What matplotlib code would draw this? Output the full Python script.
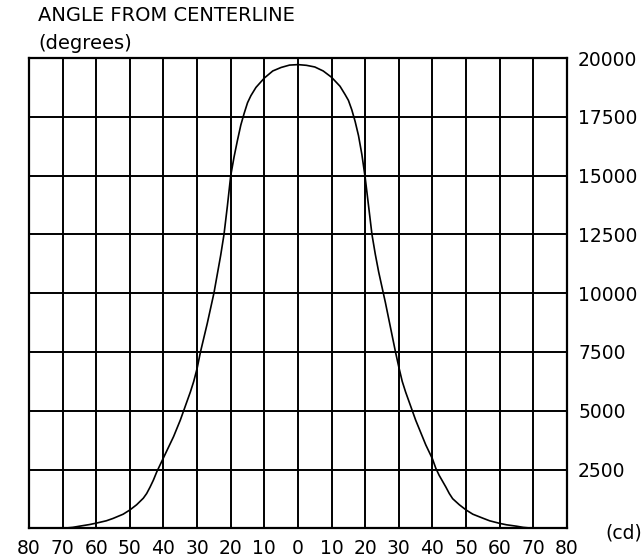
import matplotlib
matplotlib.use("Agg")
import matplotlib.pyplot as plt

# beam intensity (cd) against angle from centerline (degrees)
angles = [-70, -67, -65, -62, -60, -57, -55, -52, -50, -48, -46, -45, -44,
          -43, -42, -41, -40, -39, -38, -37, -36, -35, -34, -33, -32, -31,
          -30, -29, -28, -27, -26, -25, -24, -23, -22, -21, -20, -19, -18,
          -17, -16, -15, -14, -12.5, -10, -7.5, -5, -2.5,
          0, 2.5, 5, 7.5, 10, 12.5, 14, 15, 16, 17, 18, 19, 20, 21, 22, 23,
          24, 25, 26, 27, 28, 29, 30, 31, 32, 33, 34, 35, 36, 37, 38, 39, 40,
          41, 42, 43, 44, 45, 46, 48, 50, 52, 55, 57, 60, 62, 65, 67, 70]
intensity = [0, 40, 90, 160, 220, 320, 420, 600, 780, 1000, 1280, 1480, 1750,
             2050, 2400, 2700, 3000, 3300, 3600, 3900, 4250, 4600, 5000, 5400,
             5800, 6250, 6800, 7500, 8100, 8700, 9350, 10000, 10800, 11600,
             12500, 13700, 15000, 15800, 16500, 17150, 17650, 18100, 18400,
             18750, 19150, 19450, 19600, 19700,
             19720, 19690, 19620, 19450, 19180, 18800, 18450, 18200, 17800,
             17300, 16700, 15900, 14900, 13700, 12500, 11650, 10900, 10250,
             9600, 8900, 8200, 7500, 6850, 6250, 5800, 5400, 5000, 4600, 4250,
             3900, 3550, 3250, 2950, 2550, 2250, 2000, 1750, 1480, 1260, 1000,
             780, 600, 430, 320, 210, 150, 90, 40, 0]

xticks = list(range(-80, 81, 10))
xlabels = [str(abs(v)) for v in xticks]
yticks = [2500, 5000, 7500, 10000, 12500, 15000, 17500, 20000]
ylabels = [str(v) for v in yticks]

fig = plt.figure(figsize=(6.44, 5.58), dpi=100)
ax = fig.add_axes([0.045, 0.0532, 0.8354, 0.8428])

ax.set_xlim(-80, 80)
ax.set_ylim(0, 20000)

for x in xticks:
    ax.axvline(x, color="black", linewidth=1.4, zorder=1)
for y in yticks:
    ax.axhline(y, color="black", linewidth=1.4, zorder=1)

ax.plot(angles, intensity, color="black", linewidth=1.2, zorder=2)

for s in ax.spines.values():
    s.set_linewidth(1.6)

ax.set_xticks(xticks)
ax.set_xticklabels(xlabels, fontsize=13.5)
ax.yaxis.tick_right()
ax.set_yticks(yticks)
ax.set_yticklabels(ylabels, fontsize=13.5)
ax.tick_params(axis="both", length=0)
ax.tick_params(axis="x", pad=8)
ax.tick_params(axis="y", pad=8)

fig.text(0.059, 0.955, "ANGLE FROM CENTERLINE", fontsize=14, ha="left", va="bottom")
fig.text(0.059, 0.905, "(degrees)", fontsize=14, ha="left", va="bottom")
fig.text(0.94, 0.027, "(cd)", fontsize=13.5, ha="left", va="bottom")

fig.savefig("out.png", dpi=100)
